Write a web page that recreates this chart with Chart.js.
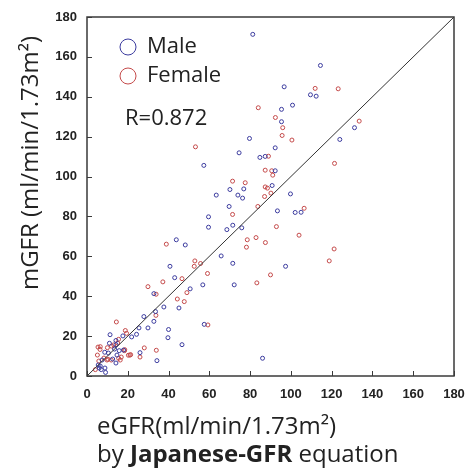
<!DOCTYPE html>
<html>
<head>
<meta charset="utf-8">
<script src="https://cdn.jsdelivr.net/npm/chart.js@4.4.1/dist/chart.umd.min.js"></script>
<style>
html,body{margin:0;padding:0;background:#fff;}
#wrap{width:467px;height:473px;position:relative;}
</style>
</head>
<body>
<div id="wrap"><canvas id="c" width="467" height="473"></canvas></div>
<script>
// ---- data ----
const maleX = [81.3,114.5,96.7,109.6,112.4,100.8,95.4,95.4,131.2,124.0,79.7,92.3,74.6,84.8,87.4,57.3,92.3,90.8,63.4,99.8,70.1,74.0,76.9,76.3,69.7,93.4,102.1,105.0,59.6,59.6,68.6,71.5,75.9,43.8,48.2,65.8,71.5,97.4,40.7,50.6,56.8,72.2,43.0,32.8,45.1,37.7,33.6,27.9,32.8,25.5,29.9,40.0,39.7,24.3,21.9,17.6,11.3,46.6,34.3,86.1,57.5,26.0,
  14.2,14.2,11.0,8.7,15.8,12.6,14.2,14.7,17.9,6.5,6.0,7.0,5.5,8.8,9.1,7.4,13.5,10.5];
const maleY = [171.3,155.7,145.0,141.0,140.3,135.8,133.7,127.5,124.5,118.6,119.1,114.4,111.9,109.6,110.1,105.6,102.9,95.5,90.7,91.3,93.5,90.7,93.8,89.2,85.0,82.8,82.0,82.1,79.8,74.6,73.4,75.6,74.3,68.3,65.7,60.2,56.5,55.0,55.0,43.7,45.7,45.7,49.3,41.3,34.1,34.6,32.3,29.8,27.4,24.1,24.1,23.3,19.2,20.9,19.6,20.1,20.7,15.7,7.7,8.9,25.9,11.7,
  17.8,15.7,16.4,11.9,12.7,8.5,6.5,10.5,13.0,5.0,4.0,3.2,5.5,4.0,1.8,8.0,13.5,11.5];
const femaleX = [111.9,123.2,84.0,92.4,96.0,95.7,100.5,133.5,53.2,89.0,87.4,90.6,91.1,121.4,71.4,77.6,87.4,88.5,90.2,87.1,71.4,83.8,106.5,92.9,104.0,82.9,78.6,87.5,78.2,121.2,118.8,38.9,52.9,55.7,52.6,59.1,90.0,83.3,46.6,37.2,29.9,49.0,33.9,44.3,47.7,33.8,59.3,14.4,18.8,19.4,28.1,34.0,26.0,21.1,
  5.4,6.4,10.0,12.0,15.5,15.0,18.5,10.3,15.5,16.3,5.1,5.8,4.1,8.3,20.3,21.4,13.1,18.4,11.9,9.8,6.5,16.8];
const femaleY = [144.2,144.0,134.5,129.6,124.5,120.6,118.3,127.8,114.9,110.2,103.2,102.9,100.7,106.6,97.7,96.9,94.8,94.2,91.7,90.0,81.0,85.0,84.1,74.9,70.6,69.4,68.3,66.9,64.6,63.7,57.7,66.1,57.7,56.4,55.0,51.4,50.7,46.7,48.8,47.2,44.8,41.8,41.0,38.6,37.3,30.4,25.6,27.1,22.8,21.4,14.1,12.9,9.5,10.5,
  14.5,13.3,14.2,15.0,18.4,16.5,13.2,8.4,8.9,8.0,10.5,7.5,3.2,9.0,10.4,10.7,15.6,12.7,8.0,8.0,14.7,9.5];
const lineX = [0, 180];
const lineY = [0, 180];
const tickValues = [0,20,40,60,80,100,120,140,160,180];
const seriesNames = ['Male','Female'];
const rText = 'R=0.872';
const xTitle1 = 'eGFR(ml/min/1.73m\u00B2)';
const xTitle2 = ['by ', 'Japanese-GFR', ' equation'];
const yTitle = 'mGFR (ml/min/1.73m\u00B2)';

const BLUE = '#3b3b9e';
const RED = '#c44a4a';

const toPts = (xs, ys) => xs.map((x, i) => ({x, y: ys[i]}));

const deco = {
  id: 'deco',
  afterDraw(chart) {
    const {ctx, chartArea: a, scales: {x, y}} = chart;
    ctx.save();
    // frame
    ctx.strokeStyle = '#3a3a3a';
    ctx.lineWidth = 1.5;
    ctx.strokeRect(a.left, a.top, a.right - a.left, a.bottom - a.top);
    // inward ticks
    ctx.lineWidth = 1;
    ctx.beginPath();
    tickValues.forEach(v => {
      const px = Math.round(x.getPixelForValue(v)) + 0.5;
      ctx.moveTo(px, a.bottom); ctx.lineTo(px, a.bottom - 5);
      const py = Math.round(y.getPixelForValue(v)) + 0.5;
      ctx.moveTo(a.left, py); ctx.lineTo(a.left + 5, py);
    });
    ctx.stroke();
    // legend
    ctx.font = '22px "Open Sans"';
    ctx.textBaseline = 'middle';
    ctx.textAlign = 'left';
    const lx = a.left + 41, ly = [a.top + 30, a.top + 59];
    [BLUE, RED].forEach((col, i) => {
      ctx.strokeStyle = col; ctx.lineWidth = 1;
      ctx.beginPath(); ctx.arc(lx, ly[i], 8, 0, Math.PI * 2); ctx.stroke();
      ctx.fillStyle = '#222';
      ctx.fillText(seriesNames[i], lx + 19, ly[i]);
    });
    ctx.fillText(rText, a.left + 38, a.top + 102);
    // x title
    ctx.textAlign = 'left';
    ctx.font = '24px "Open Sans"';
    ctx.fillStyle = '#222';
    ctx.fillText(xTitle1, 97, 427);
    let cx = 97;
    xTitle2.forEach((s, i) => {
      ctx.font = (i === 1 ? 'bold ' : '') + '24px "Open Sans"';
      ctx.fillText(s, cx, 455);
      cx += ctx.measureText(s).width;
    });
    // y title
    ctx.translate(31, 163);
    ctx.rotate(-Math.PI / 2);
    ctx.textAlign = 'center';
    ctx.font = '24px "Open Sans"';
    ctx.fillText(yTitle, 0, 0);
    ctx.restore();
  }
};

new Chart(document.getElementById('c'), {
  type: 'scatter',
  data: {
    datasets: [
      {label: 'line', data: toPts(lineX, lineY), showLine: true, borderColor: '#333', borderWidth: 1, pointRadius: 0, order: 0},
      {label: seriesNames[0], data: toPts(maleX, maleY), pointStyle: 'circle', pointRadius: 2, borderColor: BLUE, backgroundColor: 'rgba(0,0,0,0)', borderWidth: 1},
      {label: seriesNames[1], data: toPts(femaleX, femaleY), pointStyle: 'circle', pointRadius: 2, borderColor: RED, backgroundColor: 'rgba(0,0,0,0)', borderWidth: 1}
    ]
  },
  options: {
    responsive: false,
    animation: false,
    layout: {padding: {left: 0, right: 13, top: 17, bottom: 0}},
    plugins: {legend: {display: false}, tooltip: {enabled: false}},
    scales: {
      x: {
        type: 'linear', min: 0, max: 180,
        afterFit: s => { s.height = 97; s.paddingLeft = 0; s.paddingRight = 0; },
        afterBuildTicks: s => { s.ticks = tickValues.map(v => ({value: v})); },
        grid: {display: false, drawTicks: false},
        border: {display: false},
        ticks: {padding: 11, color: '#222', font: {family: 'Liberation Sans', weight: 'bold', size: 13}, maxRotation: 0}
      },
      y: {
        type: 'linear', min: 0, max: 180,
        afterFit: s => { s.width = 87; s.paddingTop = 0; s.paddingBottom = 0; },
        afterBuildTicks: s => { s.ticks = tickValues.map(v => ({value: v})); },
        grid: {display: false, drawTicks: false},
        border: {display: false},
        ticks: {padding: 10, color: '#222', font: {family: 'Liberation Sans', weight: 'bold', size: 13}}
      }
    }
  },
  plugins: [deco]
});
</script>
</body>
</html>
